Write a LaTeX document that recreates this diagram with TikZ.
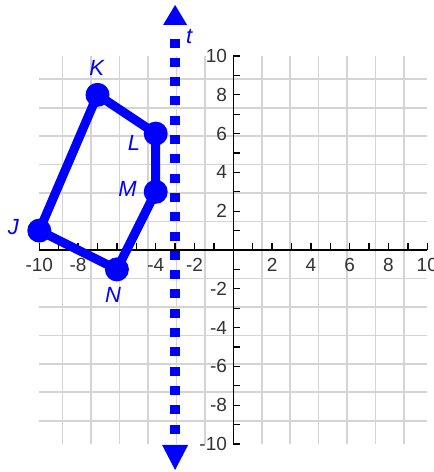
\documentclass[tikz,border=0pt]{standalone}
\usepackage{fontspec}
\setmainfont{Liberation Sans}
\begin{document}
\begin{tikzpicture}[x=19.4pt,y=19.4pt,
  gridline/.style={draw=black!17, line width=1.6pt},
  axisline/.style={draw=black, line width=1.4pt},
  tickmark/.style={draw=black, line width=1.3pt},
  ptdot/.style={circle, fill=blue, minimum size=24pt, inner sep=0pt},
  ptlbl/.style={text=blue, font=\fontsize{22}{22}\selectfont\itshape, inner sep=0pt},
  numlbl/.style={text=black!80, font=\fontsize{19}{19}\selectfont, inner sep=0pt},
  polyline/.style={draw=blue, line width=9pt, line join=round},
  dotsq/.style={fill=blue, minimum width=10pt, minimum height=9pt, inner sep=0pt, outer sep=0pt}
]
\useasboundingbox (-12.026,-11.443) rectangle (10.294,12.887);
\fill[white] (-12.026,-11.443) rectangle (10.294,12.887);
\clip (-12.026,-11.443) rectangle (10.294,12.887);
% grid
\draw[gridline] (-10,-10) grid (10,10);
% axes
\draw[axisline] (-10,0) -- (10,0);
\draw[axisline] (0,-10) -- (0,10);
\foreach \i in {-10,...,10} {
  \draw[tickmark] (\i,0) -- (\i,0.36);
  \draw[tickmark] (0,\i) -- (0.36,\i);
}
% tick labels
\foreach \i in {-10,-8,-4,-2,2,4,6,8,10} {
  \node[numlbl] (xl\i) at (\i,-0.77) {\i};
}
\foreach \i in {-10,-8,-6,-4,-2,2,4,6,8,10} {
  \node[numlbl, anchor=east] (yl\i) at (-0.32,\i) {\i};
}
% line t (square dots)
\foreach \k in {0,...,20} {
  \node[dotsq] (tq\k) at (-3,10.67-0.995*\k) {};
}
\coordinate (tTop) at (-3,12.63);
\coordinate (tBot) at (-3,-11.34);
\fill[blue] (tTop) -- (-3.62,11.6) -- (-2.38,11.6) -- cycle;
\fill[blue] (tBot) -- (-3.67,-10.05) -- (-2.33,-10.05) -- cycle;
\node[ptlbl] (tlab) at (-2.28,10.98) {t};
% polygon
\coordinate (J) at (-10,1);
\coordinate (K) at (-7,8);
\coordinate (L) at (-4,6);
\coordinate (M) at (-4,3);
\coordinate (N) at (-6,-1);
\draw[polyline] (J) -- (K) -- (L) -- (M) -- (N) -- cycle;
\node[ptdot] (Jd) at (J) {};
\node[ptdot] (Kd) at (K) {};
\node[ptdot] (Ld) at (L) {};
\node[ptdot] (Md) at (M) {};
\node[ptdot] (Nd) at (N) {};
\node[ptlbl] (Jl) at (-11.34,1.19) {J};
\node[ptlbl] (Kl) at (-7.04,9.38) {K};
\node[ptlbl] (Ll) at (-5.12,5.5) {L};
\node[ptlbl] (Ml) at (-5.45,3.14) {M};
\node[ptlbl] (Nl) at (-6.2,-2.32) {N};
\end{tikzpicture}
\end{document}
